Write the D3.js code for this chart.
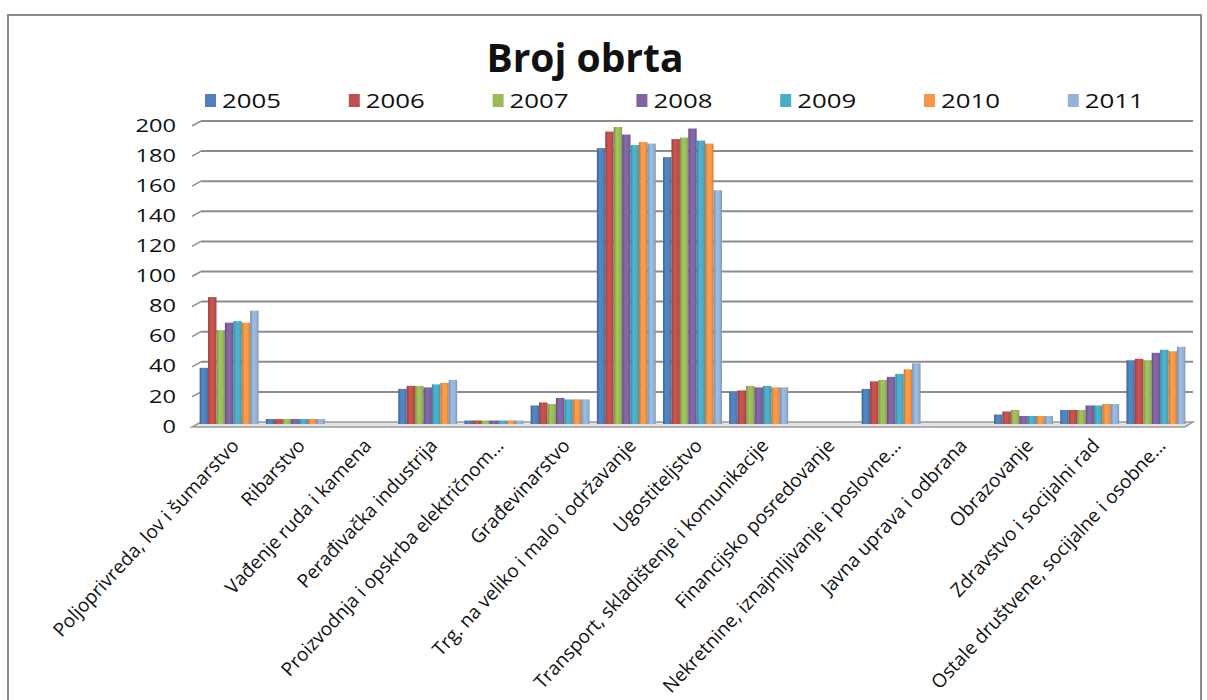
<!DOCTYPE html>
<html>
<head>
<meta charset="utf-8">
<script src="https://cdn.jsdelivr.net/npm/d3@7"></script>
<style>
  html, body { margin: 0; padding: 0; background: #fff; }
  svg { display: block; }
  text { font-family: "Open Sans", "Liberation Sans", sans-serif; fill: #111; }
</style>
</head>
<body>
<svg id="chart" width="1207" height="700"></svg>
<script>
const title = "Broj obrta";
const categories = [
  "Poljoprivreda, lov i šumarstvo",
  "Ribarstvo",
  "Vađenje ruda i kamena",
  "Perađivačka industrija",
  "Proizvodnja i opskrba električnom...",
  "Građevinarstvo",
  "Trg. na veliko i malo i održavanje",
  "Ugostiteljstvo",
  "Transport, skladištenje i komunikacije",
  "Financijsko posredovanje",
  "Nekretnine, iznajmljivanje i poslovne...",
  "Javna uprava i odbrana",
  "Obrazovanje",
  "Zdravstvo i socijalni rad",
  "Ostale društvene, socijalne i osobne..."
];
const years = ["2005", "2006", "2007", "2008", "2009", "2010", "2011"];
const v2005 = [36, 2, 0, 22, 1, 11, 182, 176, 20, 0, 22, 0, 5, 8, 41];
const v2006 = [83, 2, 0, 24, 1, 13, 193, 188, 21, 0, 27, 0, 7, 8, 42];
const v2007 = [61, 2, 0, 24, 1, 12, 196, 189, 24, 0, 28, 0, 8, 8, 41];
const v2008 = [66, 2, 0, 23, 1, 16, 191, 195, 23, 0, 30, 0, 4, 11, 46];
const v2009 = [67, 2, 0, 25, 1, 15, 184, 187, 24, 0, 32, 0, 4, 11, 48];
const v2010 = [66, 2, 0, 26, 1, 15, 186, 185, 23, 0, 35, 0, 4, 12, 47];
const v2011 = [74, 2, 0, 28, 1, 15, 185, 154, 23, 0, 39, 0, 4, 12, 50];
const series = [v2005, v2006, v2007, v2008, v2009, v2010, v2011];
const colors = ["#4F81BD", "#C0504D", "#9BBB59", "#8064A2", "#4BACC6", "#F79646", "#95B3D7"];
const yTicks = [0, 20, 40, 60, 80, 100, 120, 140, 160, 180, 200];

const svg = d3.select("#chart");

// frame
svg.append("rect").attr("x", 8).attr("y", 15).attr("width", 1193).attr("height", 700)
  .attr("fill", "none").attr("stroke", "#8a8a8a").attr("stroke-width", 2);

const left = 196, right = 1189;
const x0 = d3.scaleBand().domain(categories).range([left, right]).paddingInner(0.11).paddingOuter(0.055);
const x1 = d3.scaleBand().domain(years).range([0, x0.bandwidth()]).padding(0);
const y = d3.scaleLinear().domain([0, 200]).range([422, 121]);

// gradients for a slight cylinder look
const defs = svg.append("defs");
colors.forEach((c, i) => {
  const g = defs.append("linearGradient").attr("id", "g" + i).attr("x1", "0").attr("x2", "1").attr("y1", "0").attr("y2", "0");
  const base = d3.color(c);
  g.append("stop").attr("offset", "0%").attr("stop-color", base.darker(0.7));
  g.append("stop").attr("offset", "35%").attr("stop-color", base.brighter(0.15));
  g.append("stop").attr("offset", "75%").attr("stop-color", base);
  g.append("stop").attr("offset", "100%").attr("stop-color", base.darker(0.5));
});

// floor
svg.append("polygon")
  .attr("points", [[192, y(0) + 5], [201, y(0)], [right + 4, y(0)], [right - 4, y(0) + 5]].map(p => p.join(",")).join(" "))
  .attr("fill", "#e4e4e4").attr("stroke", "#9a9a9a").attr("stroke-width", 1.5);

// gridlines (back wall) with slanted side ends
const grid = svg.append("g");
yTicks.filter(t => t > 0).forEach(t => {
  grid.append("line").attr("x1", 201).attr("x2", right + 4).attr("y1", y(t)).attr("y2", y(t))
    .attr("stroke", "#8c8c8c").attr("stroke-width", 2);
  grid.append("line").attr("x1", 192).attr("x2", 201).attr("y1", y(t) + 5).attr("y2", y(t))
    .attr("stroke", "#8c8c8c").attr("stroke-width", 1.5);
});

// y tick labels
svg.append("g").selectAll("text").data(yTicks).join("text")
  .attr("x", 176).attr("y", d => y(d) + 4).attr("dy", "0.35em")
  .attr("text-anchor", "end").attr("font-size", 19)
  .attr("textLength", d => String(d).length * 13.5).attr("lengthAdjust", "spacingAndGlyphs")
  .text(d => d);

// bars
const groups = svg.append("g").selectAll("g").data(categories).join("g")
  .attr("transform", d => `translate(${x0(d)},0)`);
groups.selectAll("rect").data((d, ci) => years.map((yr, si) => ({ yr, si, v: series[si][ci] })))
  .join("rect")
  .attr("x", d => x1(d.yr))
  .attr("width", x1.bandwidth())
  .attr("y", d => y(d.v))
  .attr("height", d => d.v > 0 ? Math.max(0, y(0) + 2 - y(d.v)) : 0)
  .attr("fill", d => `url(#g${d.si})`);

// x labels
svg.append("g").selectAll("text").data(categories).join("text")
  .attr("transform", d => `translate(${x0(d) + x0.bandwidth() / 2 + 6},442) rotate(-47)`)
  .attr("text-anchor", "end").attr("dy", "0.35em").attr("font-size", 19).text(d => d);

// title
svg.append("text").attr("x", 585).attr("y", 72).attr("text-anchor", "middle")
  .attr("font-size", 39).attr("font-weight", "bold").text(title);

// legend
const leg = svg.append("g").selectAll("g").data(years).join("g")
  .attr("transform", (d, i) => `translate(${205 + i * 143.8},94)`);
leg.append("rect").attr("width", 11).attr("height", 13).attr("fill", (d, i) => colors[i]);
leg.append("text").attr("x", 17).attr("y", 14).attr("font-size", 20)
  .attr("textLength", 59).attr("lengthAdjust", "spacingAndGlyphs").text(d => d);
</script>
</body>
</html>
